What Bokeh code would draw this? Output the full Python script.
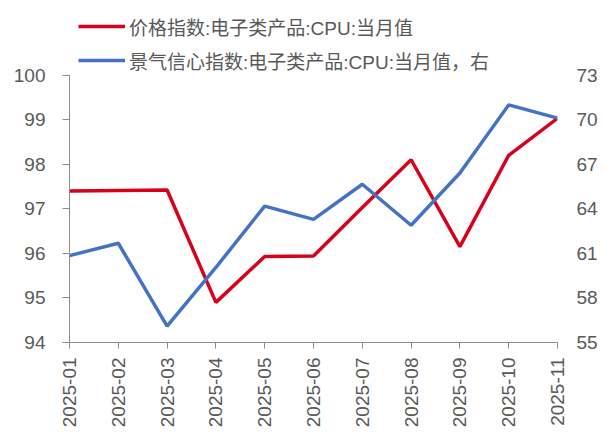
import math
from bokeh.plotting import figure
from bokeh.models import (Range1d, LinearAxis, FixedTicker, Legend, LegendItem)
from bokeh.embed import file_html
from bokeh.resources import INLINE

months = ["2025-01", "2025-02", "2025-03", "2025-04", "2025-05", "2025-06",
          "2025-07", "2025-08", "2025-09", "2025-10", "2025-11"]
price_index = [97.40, 97.41, 97.42, 94.90, 95.93, 95.94, 97.03, 98.10, 96.15, 98.20, 99.03]
confidence_index = [60.85, 61.68, 56.10, 60.05, 64.18, 63.29, 65.65, 62.89, 66.41, 70.99, 70.10]
left_ticks = [94, 95, 96, 97, 98, 99, 100]
right_ticks = [55, 58, 61, 64, 67, 70, 73]
series_names = ["价格指数:电子类产品:CPU:当月值", "景气信心指数:电子类产品:CPU:当月值，右"]

FONT = "Liberation Sans, Noto Sans CJK SC"
TXT = "#595959"
AX = "#8c8c8c"

# layout (pixels)
W, H = 600, 430
LEFT, RIGHT_EDGE = 69, 560
AXIS_TOP, AXIS_BOTTOM = 75, 344
FRAME_TOP = 0
scale_px = (AXIS_BOTTOM - FRAME_TOP) / (AXIS_BOTTOM - AXIS_TOP)

x = list(range(len(months)))

lo, hi = left_ticks[0], left_ticks[-1]
rlo, rhi = right_ticks[0], right_ticks[-1]

p = figure(width=W, height=H, output_backend="svg", toolbar_location=None,
           x_range=Range1d(0, len(months) - 1),
           y_range=Range1d(lo, lo + (hi - lo) * scale_px),
           min_border_left=LEFT, min_border_right=W - RIGHT_EDGE,
           min_border_top=FRAME_TOP, min_border_bottom=H - AXIS_BOTTOM)
p.xgrid.visible = False
p.ygrid.visible = False
p.outline_line_color = None
p.background_fill_color = "white"
p.border_fill_color = "white"

p.extra_y_ranges = {"right": Range1d(rlo, rlo + (rhi - rlo) * scale_px)}

r1 = p.line(x, price_index, line_color="#D9001B", line_width=3.5)
r2 = p.line(x, confidence_index, line_color="#4472C4", line_width=3.5, y_range_name="right")

# x axis
xa = p.xaxis[0]
xa.ticker = FixedTicker(ticks=x)
xa.major_label_overrides = {i: m for i, m in zip(x, months)}
xa.major_label_orientation = math.pi / 2
xa.axis_line_color = AX
xa.major_tick_line_color = AX
xa.major_tick_out = 6
xa.major_tick_in = 0
xa.minor_tick_line_color = None
xa.major_label_text_font = FONT
xa.major_label_text_font_size = "19px"
xa.major_label_text_color = TXT
xa.major_label_standoff = 9

ya = p.yaxis[0]
ya.ticker = FixedTicker(ticks=left_ticks)
ya.bounds = (lo, hi)
ya.axis_line_color = AX
ya.major_tick_line_color = AX
ya.major_tick_out = 7
ya.major_tick_in = 0
ya.minor_tick_line_color = None
ya.major_label_text_font = FONT
ya.major_label_text_font_size = "19px"
ya.major_label_text_color = TXT
ya.major_label_standoff = 17

ra = LinearAxis(y_range_name="right", ticker=FixedTicker(ticks=right_ticks), bounds=(rlo, rhi))
ra.axis_line_color = None
ra.major_tick_line_color = None
ra.minor_tick_line_color = None
ra.major_tick_out = 0
ra.major_tick_in = 0
ra.major_label_text_font = FONT
ra.major_label_text_font_size = "19px"
ra.major_label_text_color = TXT
ra.major_label_standoff = 19
p.add_layout(ra, "right")

legend = Legend(items=[LegendItem(label=series_names[0], renderers=[r1]),
                       LegendItem(label=series_names[1], renderers=[r2])],
                location=(9, 268), orientation="vertical",
                glyph_width=47, glyph_height=28, label_height=28, spacing=6,
                label_standoff=4, padding=0, margin=0,
                border_line_color=None, background_fill_alpha=0,
                label_text_font=FONT, label_text_font_size="19px",
                label_text_color=TXT)
p.add_layout(legend, "center")

open("out.html", "w").write(file_html(p, INLINE))
